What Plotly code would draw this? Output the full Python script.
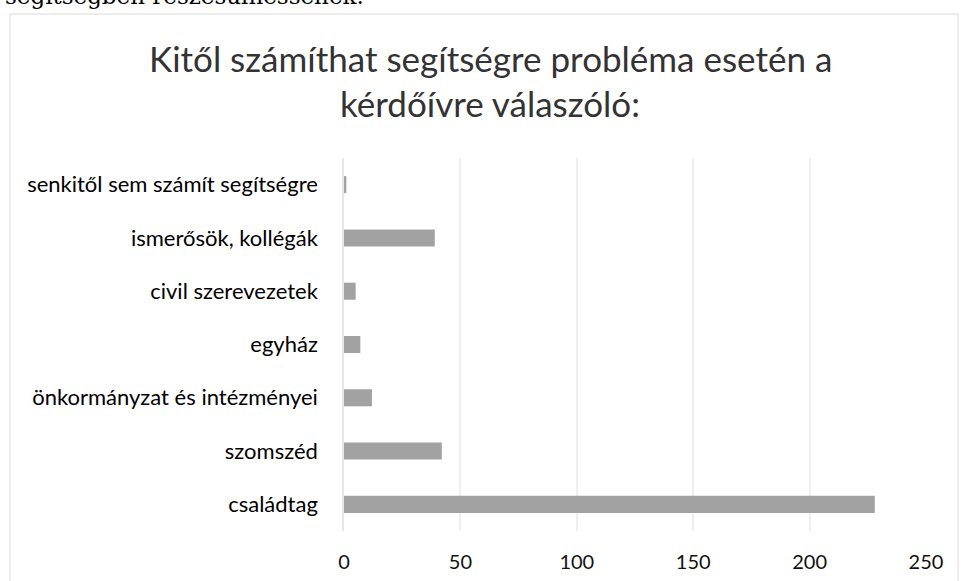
import plotly.graph_objects as go

# Answer categories (bottom to top) and number of respondents
categories = [
    "családtag",
    "szomszéd",
    "önkormányzat és intézményei",
    "egyház",
    "civil szerevezetek",
    "ismerősök, kollégák",
    "senkitől sem számít segítségre",
]
counts = [228, 42, 12, 7, 5, 39, 1]
x_ticks = [0, 50, 100, 150, 200, 250]

title_line1 = "Kitől számíthat segítségre probléma esetén a"
title_line2 = "kérdőívre válaszóló:"
preceding_text = "segítségben részesülhessenek."

W, H = 962, 581
L, R, T, B = 344, 36, 158, 50
PW, PH = W - L - R, H - T - B
label_font = "Lato, 'Noto Sans', sans-serif"


def px_x(px):
    return (px - L) / PW


def px_y(py):
    return 1 + (T - py) / PH


fig = go.Figure(
    go.Bar(
        x=counts,
        y=categories,
        orientation="h",
        marker=dict(color="#a2a2a2", line=dict(width=0)),
        hoverinfo="x+y",
    )
)

fig.update_layout(
    width=W,
    height=H,
    margin=dict(l=L, r=R, t=T, b=B, pad=0),
    paper_bgcolor="white",
    plot_bgcolor="white",
    bargap=0.68,
    showlegend=False,
    font=dict(family=label_font, color="#000000", size=21),
)

fig.update_xaxes(
    range=[0, 250],
    tickvals=x_ticks,
    ticktext=[str(v) for v in x_ticks],
    showgrid=True,
    gridcolor="#efefef",
    gridwidth=1.5,
    zeroline=False,
    showline=False,
    ticks="",
    ticklabelstandoff=17,
    automargin=False,
    tickfont=dict(size=20, color="#111111", family=label_font),
    fixedrange=True,
)
fig.update_yaxes(
    categoryorder="array",
    categoryarray=categories,
    showgrid=False,
    zeroline=False,
    showline=True,
    linecolor="#e6e6e6",
    linewidth=1.5,
    ticks="",
    ticklabelstandoff=20,
    automargin=False,
    tickfont=dict(size=22, color="#000000", family=label_font),
    fixedrange=True,
)

# Chart title, two centred lines
for text, yc in [(title_line1, 58), (title_line2, 103)]:
    fig.add_annotation(
        text=text, xref="paper", yref="paper",
        x=px_x(490), y=px_y(yc),
        xanchor="center", yanchor="middle", showarrow=False,
        font=dict(size=35, color="#333333", family=label_font),
    )

# Tail of the document sentence above the chart
fig.add_annotation(
    text=preceding_text, xref="paper", yref="paper",
    x=px_x(3), y=px_y(-4),
    xanchor="left", yanchor="middle", showarrow=False,
    font=dict(size=23, color="#000000", family="'DejaVu Serif', serif"),
)

# Chart frame
fig.add_shape(
    type="rect", xref="paper", yref="paper",
    x0=px_x(10), x1=px_x(958),
    y0=px_y(H + 20), y1=px_y(14),
    line=dict(color="#ececec", width=2), layer="below",
)

fig.write_html("out.html")
